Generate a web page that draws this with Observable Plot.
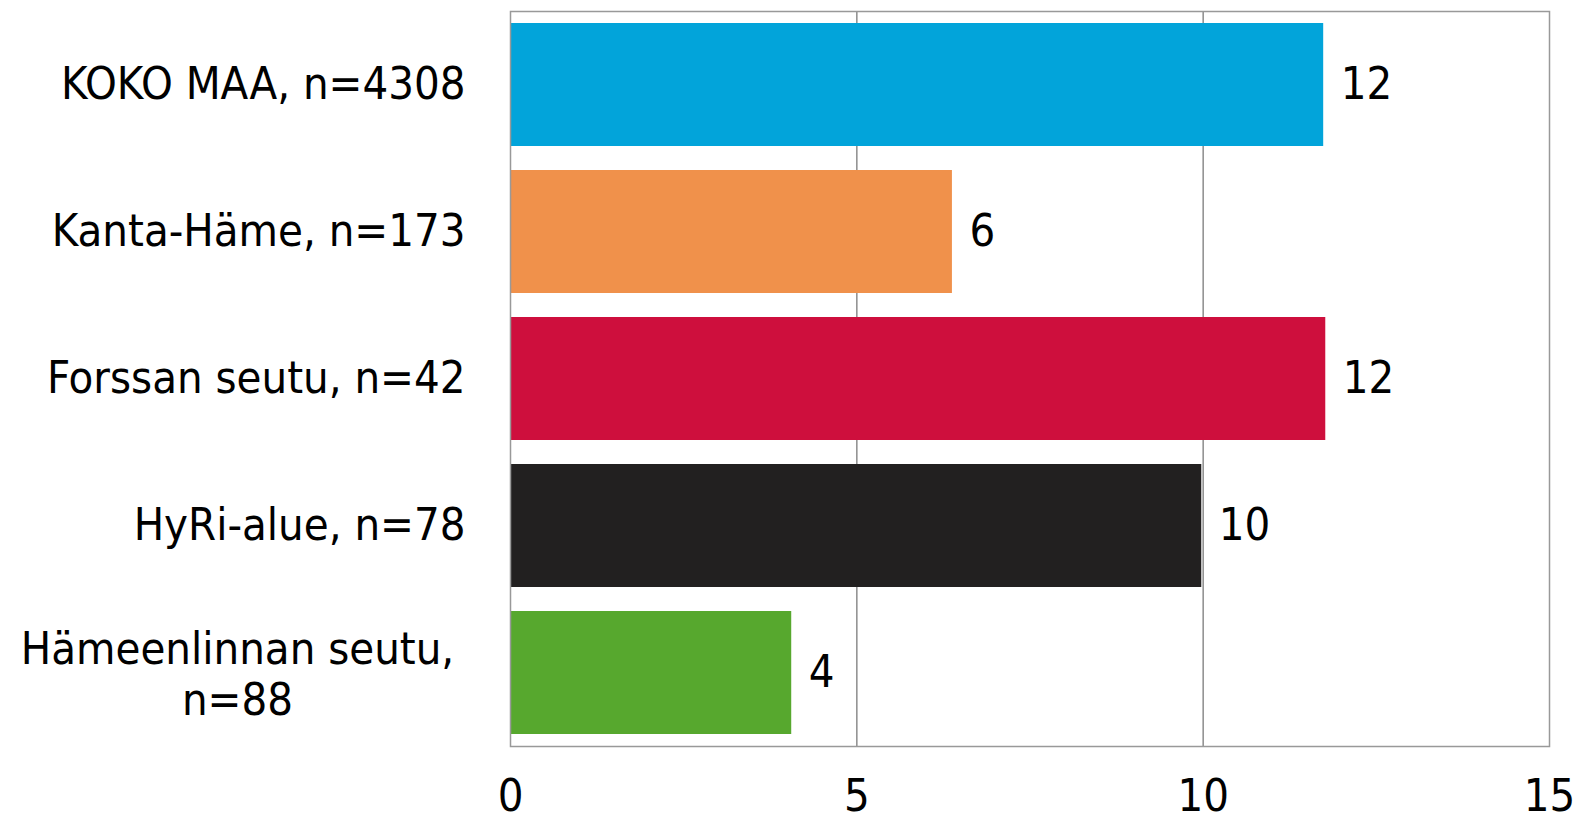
<!DOCTYPE html>
<html>
<head>
<meta charset="utf-8">
<script src="https://cdn.jsdelivr.net/npm/d3@7"></script>
<script src="https://cdn.jsdelivr.net/npm/@observablehq/plot@0.6"></script>
<style>
  html, body { margin: 0; padding: 0; background: #fff; }
  svg { display: block; }
</style>
</head>
<body>
<div id="chart"></div>
<script>
const categories = ["KOKO MAA, n=4308", "Kanta-Häme, n=173", "Forssan seutu, n=42", "HyRi-alue, n=78", "Hämeenlinnan seutu,\nn=88"];
const values = [11.74, 6.38, 11.77, 9.98, 4.06];
const colors = ["#02A4DA", "#F0914B", "#CE0F3D", "#222020", "#57A82E"];
const xTicks = [0, 5, 10, 15];

const data = categories.map((c, i) => ({category: c, value: values[i], color: colors[i]}));
const font = "'DejaVu Sans Condensed', 'DejaVu Sans', sans-serif";
const fs = 45;

const chart = Plot.plot({
  width: 1577,
  height: 824,
  marginLeft: 510,
  marginRight: 28,
  marginTop: 11,
  marginBottom: 78,
  style: {fontFamily: font, fontSize: fs + "px", color: "#000", background: "#fff", fontStretch: "condensed"},
  x: {domain: [0, 15], ticks: xTicks},
  y: {domain: categories, paddingInner: 0.165, paddingOuter: 0.0825},
  marks: [
    Plot.ruleX(xTicks.slice(1, -1), {stroke: "#8c8c8c", strokeWidth: 1.5}),
    Plot.barX(data, {y: "category", x: "value", fill: "color"}),
    Plot.text(data, {y: "category", x: "value", text: d => String(Math.round(d.value)), textAnchor: "start", dx: 17, fontSize: fs, fill: "#000"}),
    Plot.frame({stroke: "#999", strokeWidth: 1.5}),
    Plot.axisX({ticks: xTicks, tickSize: 0, tickPadding: 33, fontSize: fs, label: null, tickFormat: d => String(d)}),
    Plot.axisY({ticks: categories.slice(0, 4), tickSize: 0, tickPadding: 45, fontSize: fs, label: null, textAnchor: "end"}),
    Plot.axisY({ticks: categories.slice(4), tickSize: 0, tickPadding: 273, fontSize: fs, label: null, textAnchor: "middle", lineHeight: 1.13})
  ]
});
document.getElementById("chart").appendChild(chart);
</script>
</body>
</html>
